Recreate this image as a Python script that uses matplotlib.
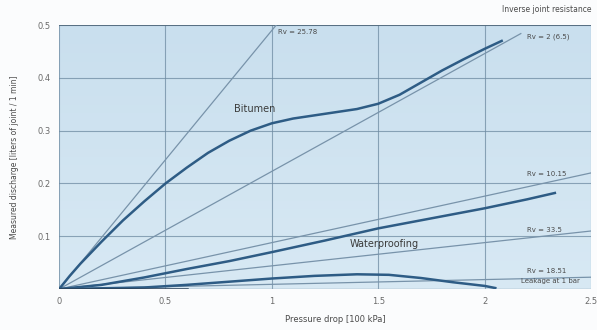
import numpy as np
import matplotlib.pyplot as plt
from matplotlib.colors import LinearSegmentedColormap

# pressure drop axis and measured curves
bitumen_x = [0, 0.05, 0.1, 0.2, 0.3, 0.4, 0.5, 0.6, 0.7, 0.8, 0.9, 1.0, 1.1, 1.2,
             1.3, 1.4, 1.5, 1.6, 1.7, 1.8, 1.9, 2.0, 2.08]
bitumen_y = [0, 0.025, 0.048, 0.09, 0.13, 0.166, 0.2, 0.23, 0.258, 0.281, 0.3, 0.314,
             0.323, 0.329, 0.335, 0.341, 0.351, 0.368, 0.391, 0.414, 0.435, 0.455, 0.47]

waterproof_x = [0, 0.2, 0.4, 0.6, 0.8, 1.0, 1.25, 1.5, 1.75, 2.0, 2.2, 2.33]
waterproof_y = [0, 0.008, 0.022, 0.038, 0.053, 0.07, 0.092, 0.115, 0.134, 0.153, 0.17, 0.182]

low_x = [0, 0.4, 0.6, 0.8, 1.0, 1.2, 1.4, 1.55, 1.7, 1.85, 2.0, 2.05]
low_y = [0, 0.003, 0.008, 0.014, 0.02, 0.025, 0.028, 0.027, 0.021, 0.013, 0.006, 0.002]

# reference lines of constant inverse joint resistance
ref_slopes = [0.49, 0.223, 0.088, 0.044, 0.009]
ref_ends = [1.02, 2.17, 2.5, 2.5, 2.5]
ref_labels = ['Rv = 25.78', 'Rv = 2 (6.5)', 'Rv = 10.15', 'Rv = 33.5', 'Rv = 18.51']

xticks = [0, 0.5, 1, 1.5, 2, 2.5]
xtick_labels = ['0', '0.5', '1', '1.5', '2', '2.5']
yticks = [0.1, 0.2, 0.3, 0.4, 0.5]
ytick_labels = ['0.1', '0.2', '0.3', '0.4', '0.5']

fig = plt.figure(figsize=(5.97, 3.30), dpi=100)
fig.patch.set_facecolor('#fbfcfd')
ax = fig.add_axes([0.099, 0.124, 0.891, 0.80])
ax.set_facecolor('#d2e5f1')

# soft gradient in the plot area
bg = LinearSegmentedColormap.from_list('bg', ['#d8e9f4', '#c9dfee'])
grad = np.linspace(0, 1, 100).reshape(-1, 1)
ax.imshow(grad, extent=[0, 2.5, 0, 0.5], aspect='auto', cmap=bg, origin='lower', zorder=0)

ax.set_xlim(0, 2.5)
ax.set_ylim(0, 0.5)
ax.set_xticks(xticks)
ax.set_xticklabels(xtick_labels)
ax.set_yticks(yticks)
ax.set_yticklabels(ytick_labels)
ax.grid(True, color='#6e8ba2', linewidth=0.8, alpha=0.75, zorder=1)
ax.tick_params(length=0, labelsize=6, colors='#6a6a6a', pad=6)
for s in ax.spines.values():
    s.set_visible(False)
ax.axhline(0.5, color='#50677a', linewidth=1.2, zorder=2)
ax.axhline(0, color='#8fa3b2', linewidth=1.0, zorder=2)

line_c = '#7893aa'
for k, end in zip(ref_slopes, ref_ends):
    xs = np.array([0, end])
    ax.plot(xs, k * xs, color=line_c, linewidth=0.9, zorder=3)

label_pos = [(1.03, 0.487), (2.2, 0.478), (2.2, 0.218), (2.2, 0.112), (2.2, 0.034)]
for (lx, ly), lab in zip(label_pos, ref_labels):
    ax.text(lx, ly, lab, fontsize=5, color='#4a4a4a', va='center')
ax.text(2.17, 0.016, 'Leakage at 1 bar', fontsize=5, color='#4a4a4a', va='center')

curve_c = '#2e5c85'
ax.plot(bitumen_x, bitumen_y, color=curve_c, linewidth=1.8, zorder=4)
ax.plot(waterproof_x, waterproof_y, color=curve_c, linewidth=1.8, zorder=4)
ax.plot(low_x, low_y, color=curve_c, linewidth=1.8, zorder=4)
ax.plot([0, 0.6], [0.001, 0.001], color='#2a3f55', linewidth=1.8, zorder=4)

ax.text(0.82, 0.335, 'Bitumen', fontsize=7, color='#3a3a3a')
ax.text(1.53, 0.08, 'Waterproofing', fontsize=7, color='#3a3a3a', ha='center')

ax.set_xlabel('Pressure drop [100 kPa]', fontsize=6, color='#4a4a4a')
ax.set_ylabel('Measured discharge [liters of joint / 1 min]', fontsize=5.5, color='#4a4a4a')
ax.xaxis.set_label_coords(0.52, -0.1)
ax.yaxis.set_label_coords(-0.075, 0.5)
fig.text(0.99, 0.965, 'Inverse joint resistance', fontsize=5.5, color='#4a4a4a', ha='right')

fig.savefig('out.png', dpi=100, facecolor=fig.get_facecolor())
